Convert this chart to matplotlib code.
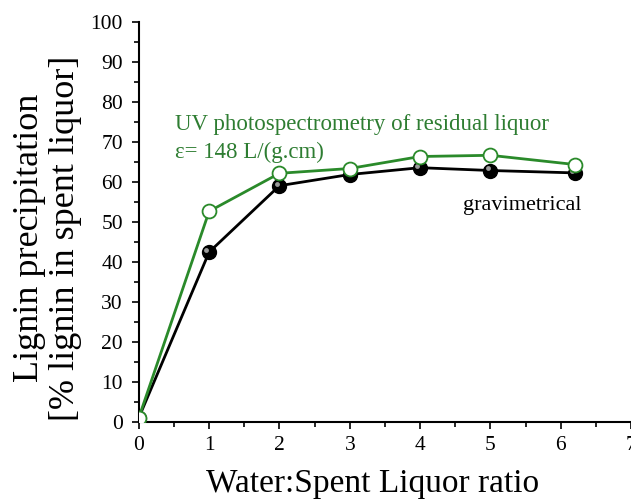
import matplotlib
matplotlib.use("Agg")
import matplotlib.pyplot as plt
import matplotlib.transforms as mtransforms
from matplotlib.ticker import MultipleLocator

ratio = [0, 1, 2, 3, 4, 5, 6.2]
gravimetric = [1.0, 42.4, 59.0, 61.8, 63.5, 62.8, 62.2]
uv_spectro = [1.0, 52.6, 62.1, 63.3, 66.3, 66.6, 64.3]

x_ticks = [0, 1, 2, 3, 4, 5, 6, 7]
y_ticks = [0, 10, 20, 30, 40, 50, 60, 70, 80, 90, 100]

plt.rcParams['font.family'] = ['Liberation Serif', 'DejaVu Serif']

GREEN = '#2a8a2a'
TEXT_GREEN = '#2e7d32'

fig = plt.figure(figsize=(6.31, 5.0), dpi=100)
ax = fig.add_axes([0.22, 0.1566, 0.78, 0.80])

ax.plot(ratio, gravimetric, '-', color='black', lw=2.0, zorder=3)
ax.plot(ratio, gravimetric, 'o', color='black', ms=10, mec='black', zorder=4)
# sphere highlight
hl = mtransforms.offset_copy(ax.transData, fig=fig, x=-2.0, y=1.5, units='points')
ax.plot(ratio, gravimetric, 'o', color='#9a9a9a', ms=3.5, mec='none',
        transform=hl, zorder=5)

ax.plot(ratio, uv_spectro, '-', color=GREEN, lw=2.0, zorder=6)
ax.plot(ratio, uv_spectro, 'o', mfc='white', mec=GREEN, mew=1.3, ms=10,
        zorder=7)

ax.set_xlim(0, 7)
ax.set_ylim(0, 100)
ax.set_xticks(x_ticks)
ax.set_yticks(y_ticks)
ax.xaxis.set_minor_locator(MultipleLocator(0.5))
ax.yaxis.set_minor_locator(MultipleLocator(5))
ax.tick_params(which='major', direction='out', length=5, width=1.2,
               labelsize=15.5)
ax.tick_params(axis='y', which='major', pad=6.5)
ax.tick_params(axis='x', which='major', pad=5)
ax.tick_params(which='minor', direction='out', length=3.5, width=1.2)
for s in ['top', 'right']:
    ax.spines[s].set_visible(False)
for s in ['left', 'bottom']:
    ax.spines[s].set_linewidth(1.5)
for lbl in ax.get_xticklabels() + ax.get_yticklabels():
    lbl.set_clip_on(False)

ax.text(175 / 631, 1 - 130 / 500, 'UV photospectrometry of residual liquor',
        transform=fig.transFigure, color=TEXT_GREEN, fontsize=16.5,
        ha='left', va='baseline')
ax.text(175 / 631, 1 - 158 / 500, 'ε= 148 L/(g.cm)',
        transform=fig.transFigure, color=TEXT_GREEN, fontsize=16.5,
        ha='left', va='baseline')
ax.text(463 / 631, 1 - 210 / 500, 'gravimetrical',
        transform=fig.transFigure, color='black', fontsize=16,
        ha='left', va='baseline')

fig.text(372.5 / 631, 1 - 492 / 500, 'Water:Spent Liquor ratio',
         fontsize=24, ha='center', va='baseline')
fig.text(47 / 631, 1 - 238 / 500,
         'Lignin precipitation\n[% lignin in spent liquor]',
         fontsize=26, ha='center', va='center', rotation=90,
         multialignment='center', linespacing=1.12)

fig.savefig('out.png', dpi=100)
